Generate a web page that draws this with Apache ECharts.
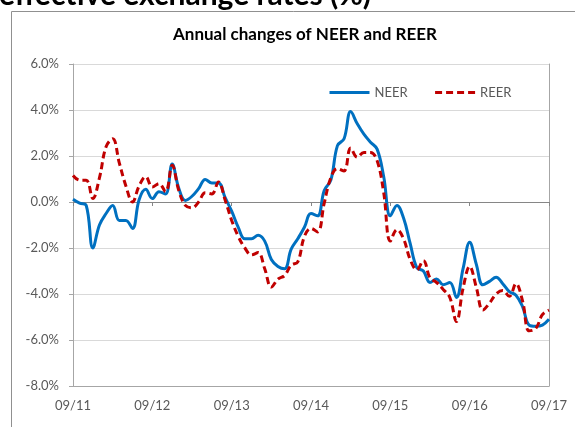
<!DOCTYPE html>
<html>
<head>
<meta charset="utf-8">
<title>Annual changes of NEER and REER</title>
<script src="https://cdn.jsdelivr.net/npm/echarts@6/dist/echarts.min.js"></script>
<style>
html,body{margin:0;padding:0;background:#fff;}
#chart{width:575px;height:427px;}
</style>
</head>
<body>
<div id="chart"></div>
<script>
// monthly, 09/11 .. 09/17
var months = [];
for (var i = 0; i <= 72; i++) {
	var m = (8 + i) % 12 + 1;
	var yr = 11 + Math.floor((8 + i) / 12);
	months.push((m < 10 ? '0' + m : '' + m) + '/' + yr);
}

// annual change, %
var neer = [0.12,-0.05,-0.15,-2.0,-1.0,-0.5,-0.15,-0.8,-0.8,-1.15,
	0.1,0.55,0.15,0.45,0.35,1.65,0.6,0.07,0.25,0.58,
	0.98,0.83,0.83,0.2,-0.4,-1.1,-1.6,-1.6,-1.45,-1.7,
	-2.5,-2.8,-2.9,-2.05,-1.6,-1.1,-0.5,-0.6,0.5,0.95,
	2.45,2.75,3.93,3.4,2.95,2.6,2.3,1.1,-0.6,-0.15,
	-0.7,-1.8,-2.85,-3.0,-3.5,-3.35,-3.6,-3.5,-4.15,-2.9,
	-1.75,-2.7,-3.6,-3.45,-3.27,-3.55,-3.9,-4.05,-4.55,-5.35,
	-5.4,-5.35,-5.1];
var reer = [1.15,0.95,0.95,0.15,1.05,2.4,2.75,1.7,0.7,0.0,
	0.7,1.1,0.65,0.8,0.45,1.6,0.5,-0.15,-0.25,0.0,
	0.4,0.35,0.87,0.1,-0.8,-1.5,-2.0,-2.3,-2.2,-2.9,
	-3.7,-3.35,-3.2,-2.75,-2.6,-1.5,-1.15,-1.3,-0.05,1.05,
	1.45,1.35,2.35,1.95,2.15,2.15,1.8,0.4,-1.7,-1.2,
	-1.6,-2.5,-2.95,-2.55,-3.3,-3.5,-3.8,-4.15,-5.2,-3.75,
	-2.8,-3.7,-4.7,-4.4,-4.0,-3.85,-4.1,-3.55,-4.3,-5.6,
	-5.5,-4.9,-4.7];

var yTicks = {min: -8, max: 6, step: 2};

var chart = echarts.init(document.getElementById('chart'));
var option = {
	animation: false,
	textStyle: {fontFamily: 'Lato'},
	title: {
		text: 'Annual changes of NEER and REER',
		left: 300, top: 21, textAlign: 'center',
		textStyle: {fontSize: 17, fontWeight: 'bold', color: '#000'}
	},
	legend: {
		data: ['NEER', 'REER'],
		left: 323, top: 81,
		itemWidth: 40, itemHeight: 14, itemGap: 26,
		itemStyle: {opacity: 0},
		lineStyle: {width: 3},
		textStyle: {fontSize: 13, color: '#595959'}
	},
	graphic: [
		{type: 'rect', shape: {x: 11.5, y: 11.5, width: 700, height: 700},
			style: {fill: 'none', stroke: '#909090', lineWidth: 1}, silent: true},
		{type: 'text', x: -1, y: -5,
			style: {text: 'effective exchange rates (%)', fill: '#000',
				font: 'bold 30px Lato', verticalAlign: 'middle'}}
	],
	grid: {left: 73, right: 26, top: 64, bottom: 41},
	xAxis: [{
		type: 'category', data: months, boundaryGap: false,
		axisLine: {onZero: true, lineStyle: {color: '#868686'}},
		axisTick: {interval: 11, length: 4, lineStyle: {color: '#868686'}},
		axisLabel: {show: false},
		splitLine: {show: false}
	}, {
		type: 'category', data: months, boundaryGap: false, position: 'bottom',
		axisLine: {onZero: false, lineStyle: {color: '#a6a6a6'}},
		axisTick: {show: false},
		axisLabel: {interval: 11, color: '#595959', fontSize: 13, margin: 13},
		splitLine: {show: false}
	}],
	yAxis: [{
		type: 'value', min: yTicks.min, max: yTicks.max, interval: yTicks.step,
		axisLine: {show: true, lineStyle: {color: '#a6a6a6'}},
		axisTick: {show: true, length: 4, lineStyle: {color: '#a6a6a6'}},
		axisLabel: {formatter: function (v) { return v.toFixed(1) + '%'; },
			color: '#595959', fontSize: 13, margin: 14},
		splitLine: {lineStyle: {color: '#d9d9d9'}}
	}, {
		type: 'value', min: yTicks.min, max: yTicks.max, interval: yTicks.step, position: 'right',
		axisLine: {show: true, lineStyle: {color: '#a6a6a6'}},
		axisTick: {show: false}, axisLabel: {show: false}, splitLine: {show: false}
	}],
	series: [{
		name: 'NEER', type: 'line', data: neer, smooth: 0.4, symbol: 'none',
		lineStyle: {color: '#0070c0', width: 3}, itemStyle: {color: '#0070c0'}
	}, {
		name: 'REER', type: 'line', data: reer, smooth: 0.4, symbol: 'none',
		lineStyle: {color: '#c00000', width: 3, type: [7, 4]}, itemStyle: {color: '#c00000'}
	}]
};
chart.setOption(option);
</script>
</body>
</html>
